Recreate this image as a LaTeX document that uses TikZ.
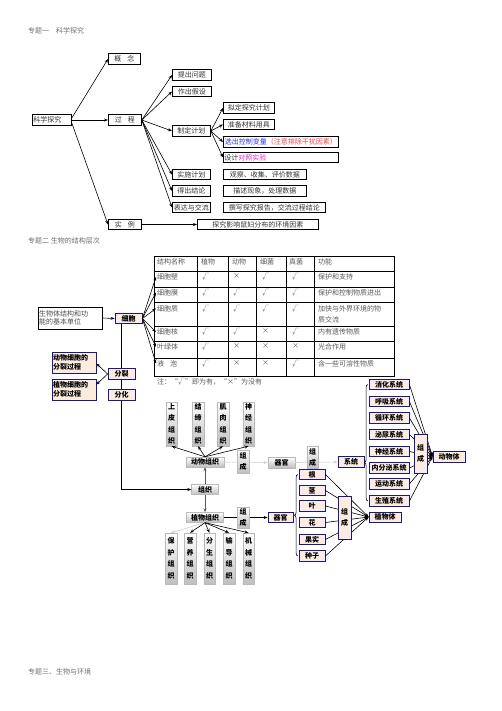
\documentclass[tikz,border=0pt]{standalone}
\usepackage{fontspec}
\setmainfont{Noto Sans CJK SC}
\definecolor{organBlue}{RGB}{24, 24, 140}
\definecolor{organCream}{RGB}{252, 236, 222}
\definecolor{titleGray}{RGB}{110, 110, 110}
\definecolor{varBlue}{RGB}{50, 50, 230}
\definecolor{varRed}{RGB}{235, 70, 70}
\definecolor{varPink}{RGB}{225, 40, 210}
\usepackage{tikz}
\usetikzlibrary{arrows.meta, positioning, calc, decorations.pathreplacing}

\newcommand{\fz}{\fontsize{7}{8.5}\selectfont}

\begin{document}
\begin{tikzpicture}[x=1pt, y=-1pt, every node/.style={font=\fz, inner sep=1pt},
    topbox/.style={draw, line width=0.8pt, minimum height=10.5pt, anchor=west, text=black!80},
    orgbox/.style={draw=organBlue, fill=organCream, line width=0.8pt, font=\fz\bfseries, minimum height=10.5pt},
    tisbox/.style={draw=gray!55, top color=white, bottom color=gray!50, font=\fz\bfseries, minimum height=10pt},
    tisbar/.style={tisbox, align=center, font=\fontsize{7}{11.5}\selectfont\bfseries, minimum width=11.5pt},
    cell/.style={anchor=north west, text=black!65},
    title/.style={anchor=west, text=titleGray},
    arr/.style={-{Stealth[length=4pt, width=3pt]}, line width=0.6pt},
    lightarr/.style={arr, draw=gray!35, fill=gray!35}]
    \useasboundingbox (0,0) rectangle (502,711);

    % topic 1
    \node[title] (topic1) at (27,31) {专题一\quad 科学探究};
    \node[topbox, text width=37pt, align=left] (kxtj) at (32,120) {科学探究};
    \node[topbox, minimum width=32pt] (gainian) at (108,59) {概\hspace{6pt}念};
    \node[topbox, minimum width=33pt] (guocheng) at (108,120) {过\hspace{6pt}程};
    \node[topbox, minimum width=33pt] (shili) at (108,224.5) {实\hspace{6pt}例};

    \node[topbox, minimum width=39pt] (tichu) at (172,75) {提出问题};
    \node[topbox, minimum width=39pt] (zuochu) at (172,91.5) {作出假设};
    \node[topbox, minimum width=38pt] (zhiding) at (172,131) {制定计划};
    \node[topbox, minimum width=38pt] (shishi) at (172,174.5) {实施计划};
    \node[topbox, minimum width=38pt] (dechu) at (172,191) {得出结论};
    \node[topbox, minimum width=38pt] (biaoda) at (172,207.5) {表达与交流};

    \node[topbox, minimum width=51pt] (niding) at (223,108) {拟定探究计划};
    \node[topbox, minimum width=51pt] (zhunbei) at (223,124.5) {准备材料用具};
    \node[topbox, minimum width=115pt] (xuanchu) at (223,142) {\textcolor{varBlue}{选出控制变量}\textcolor{varRed}{（注意排除干扰因素）}};
    \node[topbox, text width=113pt, align=left] (sheji) at (223,157.5) {设计\textcolor{varPink}{对照实验}};
    \node[topbox, minimum width=83pt] (guancha) at (223,174.5) {观察、收集、评价数据};
    \node[topbox, minimum width=83pt] (miaoshu) at (223,191) {描述现象，处理数据};
    \node[topbox, minimum width=102pt] (zhuanxie) at (223,207.5) {撰写探究报告，交流过程结论};
    \node[topbox, minimum width=121pt] (tanjiu) at (197,224.5) {探究影响鼠妇分布的环境因素};

    \draw[arr] ([yshift=2pt]kxtj.east) -- (gainian.west);
    \draw[arr] (kxtj.east) -- (guocheng.west);
    \draw[arr] ([yshift=-3pt]kxtj.east) -- (shili.west);
    \draw[arr] (guocheng.east) -- (tichu.west);
    \draw[arr] (guocheng.east) -- (zuochu.west);
    \draw[arr] (guocheng.east) -- (zhiding.west);
    \draw[arr] (guocheng.east) -- (shishi.west);
    \draw[arr] (guocheng.east) -- (dechu.west);
    \draw[arr] (guocheng.east) -- (biaoda.west);
    \draw[arr] (zhiding.east) -- (niding.west);
    \draw[arr] (zhiding.east) -- (zhunbei.west);
    \draw[arr] (zhiding.east) -- (xuanchu.west);
    \draw[arr] (zhiding.east) -- (sheji.west);
    \draw[arr] (shili.east) -- (tanjiu.west);

    % topic 2: table
    \node[title] (topic2) at (27,241) {专题二\ 生物的结构层次};
    \draw[line width=0.8pt] (154,256) rectangle (394,376)
        (154,271) -- (394,271) (154,287) -- (394,287) (154,302) -- (394,302)
        (154,326) -- (394,326) (154,341) -- (394,341) (154,358) -- (394,358)
        (197,256) -- (197,376) (228,256) -- (228,376) (256,256) -- (256,376)
        (286,256) -- (286,376) (314,256) -- (314,376);

    \node[cell] (h1) at (156,257.5) {结构名称};
    \node[cell] (h2) at (200,257.5) {植物};
    \node[cell] (h3) at (231,257.5) {动物};
    \node[cell] (h4) at (259,257.5) {细菌};
    \node[cell] (h5) at (288,257.5) {真菌};
    \node[cell] (h6) at (317,257.5) {功能};

    \node[cell] (r1) at (156,272.5) {细胞壁};
    \node[cell] (c1a) at (201,272.5) {√};
    \node[cell] (c1b) at (232,272.5) {×};
    \node[cell] (c1c) at (261,272.5) {√};
    \node[cell] (c1d) at (291,272.5) {√};
    \node[cell] (c1e) at (317,272.5) {保护和支持};

    \node[cell] (r2) at (156,288) {细胞膜};
    \node[cell] (c2a) at (201,288) {√};
    \node[cell] (c2b) at (232,288) {√};
    \node[cell] (c2c) at (261,288) {√};
    \node[cell] (c2d) at (291,288) {√};
    \node[cell] (c2e) at (317,288) {保护和控制物质进出};

    \node[cell] (r3) at (156,304) {细胞质};
    \node[cell] (c3a) at (201,304) {√};
    \node[cell] (c3b) at (232,304) {√};
    \node[cell] (c3c) at (261,304) {√};
    \node[cell] (c3d) at (291,304) {√};
    \node[cell, align=left, font=\fontsize{7}{11}\selectfont] (c3e) at (317,304) {加快与外界环境的物\\质交流};

    \node[cell] (r4) at (156,327.5) {细胞核};
    \node[cell] (c4a) at (201,327.5) {√};
    \node[cell] (c4b) at (232,327.5) {√};
    \node[cell] (c4c) at (261,327.5) {×};
    \node[cell] (c4d) at (291,327.5) {√};
    \node[cell] (c4e) at (317,327.5) {内有遗传物质};

    \node[cell] (r5) at (156,342.5) {叶绿体};
    \node[cell] (c5a) at (201,342.5) {√};
    \node[cell] (c5b) at (232,342.5) {×};
    \node[cell] (c5c) at (261,342.5) {×};
    \node[cell] (c5d) at (291,342.5) {×};
    \node[cell] (c5e) at (317,342.5) {光合作用};

    \node[cell] (r6) at (156,359) {液\hspace{6pt}泡};
    \node[cell] (c6a) at (201,359) {√};
    \node[cell] (c6b) at (232,359) {×};
    \node[cell] (c6c) at (261,359) {×};
    \node[cell] (c6d) at (291,359) {√};
    \node[cell] (c6e) at (317,359) {含一些可溶性物质};

    \node[cell] (note) at (156,377) {注：“√”即为有，“×”为没有};

    % cell
    \node[draw, line width=0.8pt, text width=62pt, align=left, text=black!70, minimum height=22pt] (danwei) at (70,318) {生物体结构和功\\能的基本单位};
    \node[orgbox, minimum width=27pt] (xibao) at (128.5,318.5) {细胞};
    \draw[arr] (danwei.east) -- (xibao.west);
    \draw[arr] (xibao.east) -- (r1.west);
    \draw[arr] (xibao.east) -- (r2.west);
    \draw[arr] (xibao.east) -- (r3.west);
    \draw[arr] (xibao.east) -- (r4.west);
    \draw[arr] (xibao.east) -- (r5.west);
    \draw[arr] (xibao.east) -- (r6.west);

    \node[orgbox, minimum width=27pt] (fenlie) at (121.5,374) {分裂};
    \node[orgbox, minimum width=27pt] (fenhua) at (121.5,395) {分化};
    \node[orgbox, text width=42pt, align=left, minimum height=21pt] (dwfl) at (74,362.5) {动物细胞的\\分裂过程};
    \node[orgbox, text width=42pt, align=left, minimum height=21pt] (zwfl) at (74,389.5) {植物细胞的\\分裂过程};
    \draw[line width=0.6pt] (xibao.south -| fenlie) -- (fenlie.north);
    \draw[line width=0.6pt] (fenlie.south) -- (fenhua.north);
    \draw[arr] (fenlie.west) -- ([yshift=-1pt]dwfl.east);
    \draw[arr] (fenlie.west) -- ([yshift=5pt]zwfl.east);

    % tissues
    \node[tisbox, minimum width=27pt] (zuzhi) at (205,489.5) {组织};
    \node[tisbox, minimum width=38pt] (dwzz) at (205,462) {动物组织};
    \node[tisbox, minimum width=37pt] (zwzz) at (205,517.5) {植物组织};
    \draw[arr] (fenhua.south) |- (zuzhi.west);
    \draw[arr, draw=gray!70!black] (zuzhi.north) -- (dwzz.south);
    \draw[arr, draw=gray!70!black] (zuzhi.south) -- (zwzz.north);

    \node[tisbar, minimum height=44pt] (shangpi) at (171.5,424) {上\\皮\\组\\织};
    \node[tisbar, minimum height=44pt] (jiedi) at (198,424) {结\\缔\\组\\织};
    \node[tisbar, minimum height=44pt] (jirou) at (223,424) {肌\\肉\\组\\织};
    \node[tisbar, minimum height=44pt] (shenjing) at (248.5,424) {神\\经\\组\\织};
    \draw[arr] (dwzz.north) -- (shangpi.south);
    \draw[arr] (dwzz.north) -- (jiedi.south);
    \draw[arr] (dwzz.north) -- (jirou.south);
    \draw[arr] (dwzz.north) -- (shenjing.south);

    \node[tisbar, minimum height=51pt] (baohu) at (171,558.5) {保\\护\\组\\织};
    \node[tisbar, minimum height=51pt] (yingyang) at (190,558.5) {营\\养\\组\\织};
    \node[tisbar, minimum height=51pt] (fensheng) at (209.5,558.5) {分\\生\\组\\织};
    \node[tisbar, minimum height=51pt] (shudao) at (229,558.5) {输\\导\\组\\织};
    \node[tisbar, minimum height=51pt] (jixie) at (248.5,558.5) {机\\械\\组\\织};
    \draw[lightarr] (zwzz.south) -- (baohu.north);
    \draw[arr] (zwzz.south) -- (yingyang.north);
    \draw[arr] (zwzz.south) -- (fensheng.north);
    \draw[arr] (zwzz.south) -- (shudao.north);
    \draw[arr] (zwzz.south) -- (jixie.north);

    % animal organs and systems
    \node[tisbox, minimum width=27pt, minimum height=11pt] (dwqg) at (281.5,462.5) {器官};
    \node[orgbox, minimum width=26pt] (xitong) at (351,462) {系统};
    \draw[lightarr] (dwzz.east) -- (dwqg.west);
    \draw[lightarr] (dwqg.east) -- (xitong.west);
    \node[tisbar, minimum height=23pt, font=\fontsize{7}{11}\selectfont\bfseries] (zucheng1) at (243,461.5) {组\\成};
    \node[tisbar, minimum height=22pt, font=\fontsize{7}{11}\selectfont\bfseries] (zucheng2) at (312.5,457) {组\\成};

    \node[orgbox, minimum width=40pt] (xiaohua) at (389,384.5) {消化系统};
    \node[orgbox, minimum width=40pt] (huxi) at (389,401.5) {呼吸系统};
    \node[orgbox, minimum width=40pt] (xunhuan) at (389,418) {循环系统};
    \node[orgbox, minimum width=40pt] (miniao) at (389,434.5) {泌尿系统};
    \node[orgbox, minimum width=40pt] (shenjingxt) at (389,451.5) {神经系统};
    \node[orgbox, minimum width=40pt] (neifenmi) at (389,468) {内分泌系统};
    \node[orgbox, minimum width=40pt] (yundong) at (389,484) {运动系统};
    \node[orgbox, minimum width=40pt] (shengzhi) at (389,501) {生殖系统};
    \node[orgbox, minimum width=32pt, minimum height=11pt] (dongwuti) at (449,456.5) {动物体};
    \draw[line width=0.6pt, decorate, decoration={brace, amplitude=3pt, aspect=0.33}]
        ([xshift=-1pt]shengzhi.west) -- ([xshift=-1pt]xiaohua.west);
    \draw[arr] (xiaohua.east) -- (dongwuti.west);
    \draw[arr] (huxi.east) -- (dongwuti.west);
    \draw[arr] (xunhuan.east) -- (dongwuti.west);
    \draw[arr] (miniao.east) -- (dongwuti.west);
    \draw[arr] (shenjingxt.east) -- (dongwuti.west);
    \draw[arr] (neifenmi.east) -- (dongwuti.west);
    \draw[arr] (yundong.east) -- (dongwuti.west);
    \draw[arr] (shengzhi.east) -- (dongwuti.west);
    \node[orgbox, minimum width=13pt, minimum height=39pt, align=center, font=\fontsize{7}{11}\selectfont\bfseries] (zucheng3) at (420.5,453.5) {组\\成};

    % plant organs
    \node[orgbox, minimum width=25pt, minimum height=10pt] (zwqg) at (280.5,517.5) {器官};
    \draw[arr] (zwzz.east) -- (zwqg.west);
    \node[tisbar, minimum height=21pt, font=\fontsize{7}{11}\selectfont\bfseries] (zucheng4) at (243,517.5) {组\\成};

    \node[orgbox, minimum width=26pt] (gen) at (312,474.5) {根};
    \node[orgbox, minimum width=26pt] (jing) at (312,490.5) {茎};
    \node[orgbox, minimum width=26pt] (ye) at (312,506) {叶};
    \node[orgbox, minimum width=26pt] (hua) at (312,522.5) {花};
    \node[orgbox, minimum width=26pt] (guoshi) at (312,539.5) {果实};
    \node[orgbox, minimum width=26pt] (zhongzi) at (312,556) {种子};
    \node[orgbox, minimum width=32pt, minimum height=10pt] (zhiwuti) at (385,517) {植物体};
    \draw[line width=0.6pt, decorate, decoration={brace, amplitude=3pt}]
        ([xshift=-1pt]zhongzi.west) -- ([xshift=-1pt]gen.west);
    \draw[arr] (gen.east) -- (zhiwuti.west);
    \draw[arr] (jing.east) -- (zhiwuti.west);
    \draw[arr] (ye.east) -- (zhiwuti.west);
    \draw[arr] (hua.east) -- (zhiwuti.west);
    \draw[arr] (guoshi.east) -- (zhiwuti.west);
    \draw[arr] (zhongzi.east) -- (zhiwuti.west);
    \node[orgbox, minimum width=13pt, minimum height=43pt, align=center, font=\fontsize{7}{11}\selectfont\bfseries] (zucheng5) at (344.5,517.5) {组\\成};

    % topic 3
    \node[title] (topic3) at (27,672) {专题三、生物与环境};
\end{tikzpicture}
\end{document}
